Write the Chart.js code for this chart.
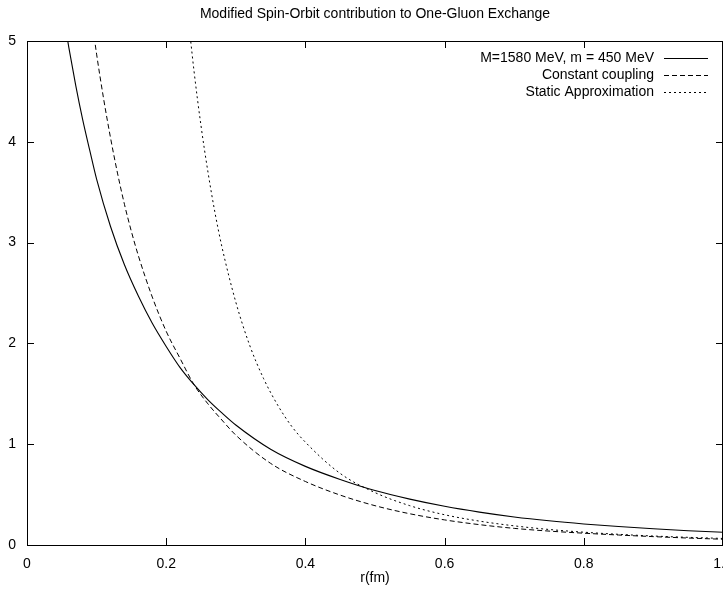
<!DOCTYPE html>
<html>
<head>
<meta charset="utf-8">
<script src="https://cdn.jsdelivr.net/npm/chart.js@4/dist/chart.umd.min.js"></script>
<style>
  html, body { margin: 0; padding: 0; background: #fff; overflow: hidden; }
  canvas { display: block; }
</style>
</head>
<body>
<canvas id="chart" width="723" height="596"></canvas>
<script>
// Spin-orbit potential vs. r (fm), three models
const seriesLabels = [
  "M=1580 MeV, m = 450 MeV",
  "Constant coupling",
  "Static Approximation"
];

const rMassive = [0.055, 0.06, 0.07, 0.08, 0.09, 0.10, 0.12, 0.14, 0.16, 0.18,
  0.20, 0.22, 0.24, 0.26, 0.28, 0.30, 0.35, 0.40, 0.45, 0.50,
  0.55, 0.60, 0.65, 0.70, 0.75, 0.80, 0.85, 0.90, 0.95, 1.00];
const vMassive = [5.15, 4.94, 4.56, 4.22, 3.92, 3.63, 3.16, 2.78, 2.47, 2.20,
  1.97, 1.76, 1.59, 1.44, 1.31, 1.19, 0.95, 0.78, 0.65, 0.54,
  0.455, 0.384, 0.326, 0.278, 0.240, 0.209, 0.183, 0.161, 0.142, 0.127];

const rConstant = [0.095, 0.10, 0.11, 0.12, 0.13, 0.14, 0.15, 0.16, 0.18, 0.20,
  0.22, 0.24, 0.26, 0.28, 0.30, 0.35, 0.40, 0.45, 0.50, 0.55,
  0.60, 0.65, 0.70, 0.75, 0.80, 0.85, 0.90, 0.95, 1.00];
const vConstant = [5.12, 4.87, 4.43, 4.04, 3.69, 3.38, 3.11, 2.87, 2.46, 2.12,
  1.85, 1.59, 1.40, 1.24, 1.09, 0.81, 0.63, 0.495, 0.39, 0.31,
  0.249, 0.202, 0.165, 0.138, 0.117, 0.099, 0.083, 0.069, 0.057];

const rStatic = [0.23, 0.24, 0.25, 0.26, 0.27, 0.28, 0.30, 0.32, 0.34, 0.36,
  0.38, 0.40, 0.45, 0.50, 0.55, 0.60, 0.65, 0.70, 0.75, 0.80,
  0.85, 0.90, 0.95, 1.00];
const vStatic = [5.34, 4.70, 4.16, 3.70, 3.30, 2.96, 2.41, 1.98, 1.65, 1.39,
  1.18, 1.02, 0.71, 0.52, 0.39, 0.30, 0.237, 0.19, 0.154, 0.127,
  0.106, 0.089, 0.076, 0.065];

const xTicks = [0, 0.2, 0.4, 0.6, 0.8, 1];
const yTicks = [0, 1, 2, 3, 4, 5];

const FONT = { family: "'Liberation Sans', Arial, Helvetica, sans-serif", size: 14 };

function toPoints(xs, ys) {
  return xs.map((x, i) => ({ x: x, y: ys[i] }));
}

function lineSet(label, xs, ys, dash, width) {
  return {
    label: label,
    data: toPoints(xs, ys),
    borderColor: "#000",
    borderWidth: width,
    borderDash: dash,
    pointRadius: 0,
    fill: false,
    cubicInterpolationMode: "monotone"
  };
}

// center the title over the plot box rather than the whole canvas
const titleOverPlot = {
  id: "titleOverPlot",
  afterLayout(chart) {
    if (chart.titleBlock) {
      chart.titleBlock.left = chart.chartArea.left;
      chart.titleBlock.right = chart.chartArea.right;
    }
  }
};

// gnuplot-style frame: box around the plot with inward ticks on every side
const framePlugin = {
  id: "frame",
  afterDatasetsDraw(chart) {
    const { ctx, chartArea: { left, right, top, bottom } } = chart;
    const xs = chart.scales.x, ys = chart.scales.y;
    const len = 7;
    ctx.save();
    ctx.strokeStyle = "#000";
    ctx.lineWidth = 1;
    ctx.setLineDash([]);
    ctx.beginPath();
    ctx.rect(Math.round(left) + 0.5, Math.round(top) + 0.5,
      Math.round(right - left) - 1, Math.round(bottom - top));
    xTicks.forEach(v => {
      const px = Math.round(xs.getPixelForValue(v)) + 0.5;
      ctx.moveTo(px, bottom); ctx.lineTo(px, bottom - len);
      ctx.moveTo(px, top); ctx.lineTo(px, top + len);
    });
    yTicks.forEach(v => {
      const py = Math.round(ys.getPixelForValue(v)) + 0.5;
      ctx.moveTo(left, py); ctx.lineTo(left + len, py);
      ctx.moveTo(right, py); ctx.lineTo(right - len, py);
    });
    ctx.stroke();
    ctx.restore();
  }
};

// key in the upper right: text right-aligned, line sample after it
const keyPlugin = {
  id: "key",
  afterDatasetsDraw(chart) {
    const { ctx, chartArea: { right, top } } = chart;
    ctx.save();
    ctx.font = FONT.size + "px " + FONT.family;
    ctx.fillStyle = "#000";
    ctx.textAlign = "right";
    ctx.textBaseline = "middle";
    chart.data.datasets.forEach((ds, i) => {
      const y = top + 17 + i * 17;
      ctx.fillText(ds.label, right - 69, y);
      ctx.strokeStyle = "#000";
      ctx.lineWidth = ds.borderWidth;
      ctx.setLineDash(ds.borderDash);
      ctx.beginPath();
      ctx.moveTo(right - 59, Math.round(y) + 0.5);
      ctx.lineTo(right - 15, Math.round(y) + 0.5);
      ctx.stroke();
    });
    ctx.restore();
  }
};

new Chart(document.getElementById("chart"), {
  type: "line",
  data: {
    datasets: [
      lineSet(seriesLabels[0], rMassive, vMassive, [], 1.1),
      lineSet(seriesLabels[1], rConstant, vConstant, [5, 3], 1),
      lineSet(seriesLabels[2], rStatic, vStatic, [2, 3], 1)
    ]
  },
  options: {
    responsive: false,
    animation: false,
    layout: { padding: 0 },
    scales: {
      x: {
        type: "linear",
        min: 0,
        max: 1,
        afterBuildTicks: s => { s.ticks = xTicks.map(v => ({ value: v })); },
        ticks: { color: "#000", font: FONT, padding: 10.5, maxRotation: 0, autoSkip: false },
        grid: { display: false, drawTicks: false },
        border: { display: false },
        title: { display: true, text: "r(fm)", color: "#000", font: FONT, padding: { top: 2, bottom: 9.6 } },
        afterFit: s => { s.height = 51; s.paddingLeft = 0; s.paddingRight = 0; }
      },
      y: {
        type: "linear",
        min: 0,
        max: 5,
        afterBuildTicks: s => { s.ticks = yTicks.map(v => ({ value: v })); },
        ticks: { color: "#000", font: FONT, padding: 11 },
        grid: { display: false, drawTicks: false },
        border: { display: false },
        afterFit: s => { s.width = 27; s.paddingTop = 0; s.paddingBottom = 0; }
      }
    },
    plugins: {
      legend: { display: false },
      tooltip: { enabled: false },
      title: {
        display: true,
        text: "Modified Spin-Orbit contribution to One-Gluon Exchange",
        color: "#000",
        font: { family: FONT.family, size: 14, weight: "normal" },
        padding: { top: 5.5, bottom: 18.7 }
      }
    }
  },
  plugins: [titleOverPlot, framePlugin, keyPlugin]
});
</script>
</body>
</html>
